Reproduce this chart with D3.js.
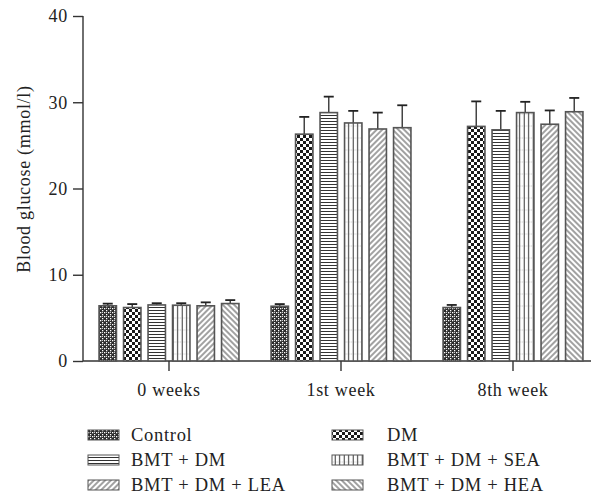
<!DOCTYPE html>
<html>
<head>
<meta charset="utf-8">
<script src="https://cdn.jsdelivr.net/npm/d3@7"></script>
<style>
  body { margin: 0; background: #fff; }
  svg text { font-family: "Liberation Serif", "DejaVu Serif", serif; fill: #222; letter-spacing: 0.7px; }
</style>
</head>
<body>
<svg id="chart" width="591" height="500"></svg>
<script>
// Time points and treatment groups
const timepoints = ["0 weeks", "1st week", "8th week"];
const groups = ["Control", "DM", "BMT + DM", "BMT + DM + SEA", "BMT + DM + LEA", "BMT + DM + HEA"];

// Mean blood glucose (mmol/l) per group, one entry per time point
const meanControl = [6.4, 6.35, 6.2];
const meanDM      = [6.2, 26.3, 27.2];
const meanBMTDM   = [6.5, 28.8, 26.8];
const meanSEA     = [6.47, 27.6, 28.8];
const meanLEA     = [6.4, 26.9, 27.45];
const meanHEA     = [6.66, 27.05, 28.9];

// Standard deviations (upper error bar length)
const sdControl = [0.25, 0.25, 0.3];
const sdDM      = [0.4, 2.0, 2.9];
const sdBMTDM   = [0.2, 1.85, 2.2];
const sdSEA     = [0.23, 1.4, 1.25];
const sdLEA     = [0.4, 1.9, 1.6];
const sdHEA     = [0.4, 2.6, 1.6];

const yTicks = [0, 10, 20, 30, 40];

const means = [meanControl, meanDM, meanBMTDM, meanSEA, meanLEA, meanHEA];
const sds = [sdControl, sdDM, sdBMTDM, sdSEA, sdLEA, sdHEA];
const patternIds = ["p-control", "p-dm", "p-horiz", "p-vert", "p-fwd", "p-back"];

const svg = d3.select("#chart");
const ink = "#333";
const barStroke = "#555";
const fontFamily = "'Liberation Serif', 'DejaVu Serif', serif";

// ---- fill patterns ----
const defs = svg.append("defs");

// fine dotted checker
let p = defs.append("pattern").attr("id", "p-control").attr("patternUnits", "userSpaceOnUse")
  .attr("width", 4).attr("height", 4);
p.append("rect").attr("width", 4).attr("height", 4).attr("fill", "#2b2b2b");
p.append("rect").attr("x", 0).attr("y", 0).attr("width", 1.3).attr("height", 1.3).attr("fill", "#fff");
p.append("rect").attr("x", 2).attr("y", 2).attr("width", 1.3).attr("height", 1.3).attr("fill", "#fff");
p.append("rect").attr("x", 2).attr("y", 0).attr("width", 1).attr("height", 1).attr("fill", "#ccc");

// coarse checkerboard
p = defs.append("pattern").attr("id", "p-dm").attr("patternUnits", "userSpaceOnUse")
  .attr("width", 6).attr("height", 6);
p.append("rect").attr("width", 6).attr("height", 6).attr("fill", "#fff");
p.append("rect").attr("x", 0).attr("y", 0).attr("width", 3).attr("height", 3).attr("fill", "#1a1a1a");
p.append("rect").attr("x", 3).attr("y", 3).attr("width", 3).attr("height", 3).attr("fill", "#1a1a1a");

// horizontal lines
p = defs.append("pattern").attr("id", "p-horiz").attr("patternUnits", "userSpaceOnUse")
  .attr("width", 6).attr("height", 3);
p.append("rect").attr("width", 6).attr("height", 3).attr("fill", "#fff");
p.append("line").attr("x1", 0).attr("x2", 6).attr("y1", 1.5).attr("y2", 1.5)
  .attr("stroke", "#333").attr("stroke-width", 1);

// vertical lines
p = defs.append("pattern").attr("id", "p-vert").attr("patternUnits", "userSpaceOnUse")
  .attr("width", 4.5).attr("height", 12);
p.append("rect").attr("width", 4.5).attr("height", 12).attr("fill", "#fff");
p.append("line").attr("x1", 2.2).attr("x2", 2.2).attr("y1", 0).attr("y2", 12)
  .attr("stroke", "#333").attr("stroke-width", 1);
p.append("line").attr("x1", 0).attr("x2", 4.5).attr("y1", 6).attr("y2", 6)
  .attr("stroke", "#bbb").attr("stroke-width", 0.6).attr("stroke-dasharray", "1 2");

// forward diagonal
p = defs.append("pattern").attr("id", "p-fwd").attr("patternUnits", "userSpaceOnUse")
  .attr("width", 4).attr("height", 4).attr("patternTransform", "rotate(45)");
p.append("rect").attr("width", 4).attr("height", 4).attr("fill", "#fff");
p.append("line").attr("x1", 2).attr("x2", 2).attr("y1", 0).attr("y2", 4)
  .attr("stroke", "#444").attr("stroke-width", 1);

// backward diagonal
p = defs.append("pattern").attr("id", "p-back").attr("patternUnits", "userSpaceOnUse")
  .attr("width", 4).attr("height", 4).attr("patternTransform", "rotate(-45)");
p.append("rect").attr("width", 4).attr("height", 4).attr("fill", "#fff");
p.append("line").attr("x1", 2).attr("x2", 2).attr("y1", 0).attr("y2", 4)
  .attr("stroke", "#444").attr("stroke-width", 1);

// ---- scales ----
const x0 = d3.scaleBand().domain(timepoints).range([83, 599]).paddingInner(0).paddingOuter(0);
const x1 = d3.scaleBand().domain(groups).range([12.5, x0.bandwidth() - 12.5]).paddingInner(0.29).paddingOuter(0.145);
const y = d3.scaleLinear().domain([0, 40]).range([361, 16]);

// ---- axes ----
const yAxis = svg.append("g").attr("transform", "translate(83,0)")
  .call(d3.axisLeft(y).tickValues(yTicks).tickSize(10).tickPadding(5));
const xAxis = svg.append("g").attr("transform", "translate(0,361)")
  .call(d3.axisBottom(x0).tickSize(10).tickPadding(12));
[yAxis, xAxis].forEach(g => {
  g.attr("font-family", null);
  g.select(".domain").attr("stroke", ink).attr("stroke-width", 1.4);
  g.selectAll(".tick line").attr("stroke", ink).attr("stroke-width", 1.4);
  g.selectAll(".tick text").attr("font-size", 18).attr("fill", "#222")
    .style("font-family", fontFamily);
});
xAxis.select(".domain").attr("d", "M83,0H599");
yAxis.select(".domain").attr("d", "M0,16V361");

svg.append("text")
  .attr("transform", "translate(30,179) rotate(-90)")
  .attr("text-anchor", "middle")
  .attr("font-size", 18)
  .text("Blood glucose (mmol/l)");

// ---- bars ----
const rows = [];
timepoints.forEach((t, ti) => {
  groups.forEach((g, gi) => {
    rows.push({ t, g, gi, mean: means[gi][ti], sd: sds[gi][ti] });
  });
});

const plot = svg.append("g");
const bw = x1.bandwidth();

// error bars behind the bar tops
plot.selectAll("line.err").data(rows).enter().append("line")
  .attr("class", "err")
  .attr("x1", d => x0(d.t) + x1(d.g) + bw / 2)
  .attr("x2", d => x0(d.t) + x1(d.g) + bw / 2)
  .attr("y1", d => y(d.mean))
  .attr("y2", d => y(d.mean + d.sd))
  .attr("stroke", "#444").attr("stroke-width", 1.5);
plot.selectAll("line.cap").data(rows).enter().append("line")
  .attr("class", "cap")
  .attr("x1", d => x0(d.t) + x1(d.g) + bw / 2 - 5)
  .attr("x2", d => x0(d.t) + x1(d.g) + bw / 2 + 5)
  .attr("y1", d => y(d.mean + d.sd))
  .attr("y2", d => y(d.mean + d.sd))
  .attr("stroke", "#222").attr("stroke-width", 1.8);

plot.selectAll("rect.bar").data(rows).enter().append("rect")
  .attr("class", "bar")
  .attr("x", d => x0(d.t) + x1(d.g))
  .attr("y", d => y(d.mean))
  .attr("width", bw)
  .attr("height", d => y(0) - y(d.mean))
  .attr("fill", d => `url(#${patternIds[d.gi]})`)
  .attr("stroke", barStroke).attr("stroke-width", 1.6);

// ---- legend ----
const swatchX = [88, 332];
const textX = [131, 387];
const legendBaselines = [441, 466, 491];
const legend = svg.append("g");
groups.forEach((g, i) => {
  const col = i % 2;
  const base = legendBaselines[Math.floor(i / 2)];
  legend.append("rect")
    .attr("x", swatchX[col]).attr("y", base - 11).attr("width", 31).attr("height", 10)
    .attr("fill", `url(#${patternIds[i]})`)
    .attr("stroke", barStroke).attr("stroke-width", 1);
  legend.append("text")
    .attr("x", textX[col]).attr("y", base)
    .attr("font-size", 18.5)
    .text(g);
});
</script>
</body>
</html>
